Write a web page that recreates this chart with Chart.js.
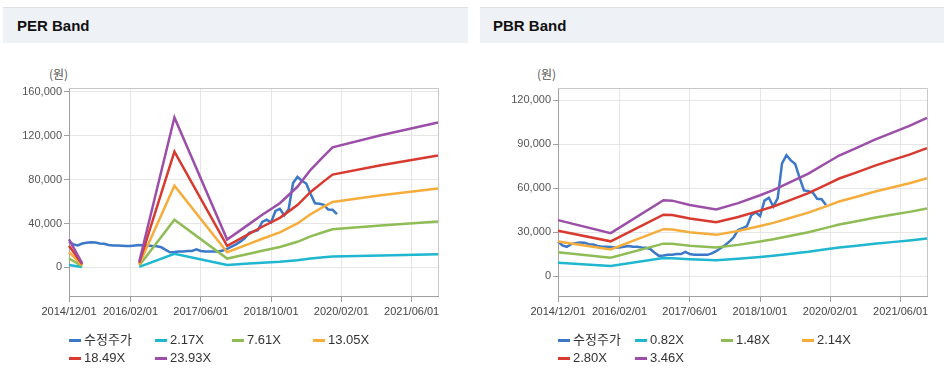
<!DOCTYPE html>
<html><head><meta charset="utf-8">
<script src="https://cdn.jsdelivr.net/npm/chart.js@4/dist/chart.umd.min.js"></script>
<style>
html,body{margin:0;padding:0;background:#fff;}
body{width:944px;height:380px;position:relative;overflow:hidden;font-family:"Liberation Sans",Arial,"Noto Sans CJK KR",sans-serif;}
.hdr{position:absolute;top:7px;height:36px;background:#eef1f6;border-top:1px solid #dde0e5;box-sizing:border-box;z-index:2;}
.hdr span{position:absolute;top:0;line-height:35px;font-weight:bold;font-size:15px;color:#111;font-family:"Liberation Sans","Noto Sans CJK KR",sans-serif;}
.unit{position:absolute;top:66px;font-size:12px;color:#555;font-family:"Noto Sans CJK KR",sans-serif;line-height:16px;}
canvas{position:absolute;top:0;}
.leg{position:absolute;font-size:13px;color:#333;white-space:nowrap;line-height:16px;font-family:"Liberation Sans","Noto Sans CJK KR",sans-serif;}
.leg i{position:absolute;left:0;top:7px;width:12px;height:3px;}
.leg b{font-weight:normal;position:absolute;left:15px;top:0;}
</style></head>
<body>
<div class="hdr" style="left:3px;width:465px;"><span style="left:14px;">PER Band</span></div>
<div class="hdr" style="left:480px;width:464px;"><span style="left:13px;">PBR Band</span></div>
<div class="unit" style="left:49px;">(원)</div>
<div class="unit" style="left:537px;">(원)</div>
<canvas id="per" width="470" height="336" style="left:0;width:470px;height:336px;"></canvas>
<canvas id="pbr" width="464" height="336" style="left:480px;width:464px;height:336px;"></canvas>
<div id="legPer"></div>
<div id="legPbr"></div>
<script>
const months = [
'2014/12/01',
'2015/01/01','2015/02/01','2015/03/01','2015/04/01','2015/05/01','2015/06/01','2015/07/01','2015/08/01','2015/09/01','2015/10/01','2015/11/01','2015/12/01',
'2016/01/01','2016/02/01','2016/03/01','2016/04/01','2016/05/01','2016/06/01','2016/07/01','2016/08/01','2016/09/01','2016/10/01','2016/11/01','2016/12/01',
'2017/01/01','2017/02/01','2017/03/01','2017/04/01','2017/05/01','2017/06/01','2017/07/01','2017/08/01','2017/09/01','2017/10/01','2017/11/01','2017/12/01',
'2018/01/01','2018/02/01','2018/03/01','2018/04/01','2018/05/01','2018/06/01','2018/07/01','2018/08/01','2018/09/01','2018/10/01','2018/11/01','2018/12/01',
'2019/01/01','2019/02/01','2019/03/01','2019/04/01','2019/05/01','2019/06/01','2019/07/01','2019/08/01','2019/09/01','2019/10/01','2019/11/01','2019/12/01',
'2020/01/01','2020/02/01','2020/03/01','2020/04/01','2020/05/01','2020/06/01','2020/07/01','2020/08/01','2020/09/01','2020/10/01','2020/11/01','2020/12/01',
'2021/01/01','2021/02/01','2021/03/01','2021/04/01','2021/05/01','2021/06/01','2021/07/01','2021/08/01','2021/09/01','2021/10/01','2021/11/01','2021/12/01'
];
const xTickLabels = ['2014/12/01','2016/02/01','2017/06/01','2018/10/01','2020/02/01','2021/06/01'];
const perYTicks = [0,40000,80000,120000,160000];
const pbrYTicks = [0,30000,60000,90000,120000];

const priceName = '수정주가';
const price = [23500,21000,20000,21800,22500,23000,22800,21800,21500,20500,
20000,20000,19800,19500,19500,20000,20500,20000,20000,19500,
19300,18500,16000,13800,14000,14500,14500,15000,15000,16500,
15000,14500,14500,14500,14500,15500,17000,19000,21000,23500,
26500,31500,32800,34000,41500,43500,41000,51500,53500,47500,
53000,77000,82500,79000,76500,67000,58500,58000,57000,52800,
52500,48500];

const perNames = ['2.17X','7.61X','13.05X','18.49X','23.93X'];
const perDates = ['2014/12/01','2015/03/01','2015/09/01','2016/04/01','2016/12/01','2017/12/01','2018/05/01','2018/08/01','2018/12/01','2019/04/01','2019/07/01','2019/10/01','2019/12/01','2020/11/01','2021/12/01'];
const per217 = [2320,340,null,500,12400,2310,3580,4350,5310,6670,8070,9210,9930,10930,11970];
const per761 = [8140,1210,null,1750,43470,8110,12560,15260,18600,23370,28300,32280,34820,38320,41980];
const per1305 = [13960,2070,null,3000,74540,13910,21540,26170,31900,40080,48530,55350,59710,65710,71980];
const per1849 = [19780,2940,null,4250,105630,19700,30520,37090,45200,56790,68770,78430,84610,93110,102000];
const per2393 = [25600,3800,null,5500,136700,25500,39500,48000,58500,73500,89000,101500,109500,120500,132000];

const pbrNames = ['0.82X','1.48X','2.14X','2.80X','3.46X'];
const pbrDates = ['2014/12/01','2015/12/01','2016/12/01','2017/02/01','2017/06/01','2017/12/01','2018/05/01','2018/10/01','2019/01/01','2019/05/01','2019/09/01','2020/01/01','2020/04/01','2020/08/01','2020/12/01','2021/04/01','2021/08/01','2021/12/01'];
const pbr082 = [9050,6940,12280,12210,11490,10780,11800,13080,13910,15240,16590,18250,19510,20740,22040,23180,24290,25600];
const pbr148 = [16340,12530,22150,22030,20740,19460,21300,23610,25110,27500,29940,32930,35200,37420,39780,41830,43840,46190];
const pbr214 = [23630,18120,32040,31850,30000,28140,30800,34140,36310,39770,43300,47620,50900,54120,57520,60490,63400,66800];
const pbr280 = [30910,23710,41920,41670,39250,36820,40300,44670,47500,52030,56640,62310,66600,70810,75260,79140,82940,87390];
const pbr346 = [38200,29300,51800,51500,48500,45500,49800,55200,58700,64300,70000,77000,82300,87500,93000,97800,102500,108000];

const colors = ['#3b78c8','#1fb6cf','#8fbc55','#f6ad3c','#d83a30','#9c4fa8'];

Chart.defaults.font.family = '"Liberation Sans", Arial, sans-serif';

function buildDatasets(names, dates, series) {
  const ds = [{label: priceName, data: price, borderColor: colors[0], order: 6}];
  series.forEach((vals, k) => {
    ds.push({label: names[k], data: dates.map((d, i) => ({x: d, y: vals[i]})), borderColor: colors[k + 1], order: 5 - k});
  });
  return ds;
}

const framePlugin = {
  id: 'frame',
  beforeDatasetsDraw(chart) {
    const {ctx, chartArea: a} = chart;
    ctx.save();
    ctx.strokeStyle = '#c8c8c8';
    ctx.lineWidth = 1;
    ctx.beginPath();
    ctx.moveTo(Math.round(a.left), Math.round(a.top) + 0.5);
    ctx.lineTo(Math.round(a.right) + 0.5, Math.round(a.top) + 0.5);
    ctx.lineTo(Math.round(a.right) + 0.5, Math.round(a.bottom));
    ctx.stroke();
    ctx.restore();
  }
};

function makeChart(id, datasets, yMin, yMax, yTicks, yWidth, padRight) {
  return new Chart(document.getElementById(id), {
    type: 'line',
    data: {labels: months, datasets: datasets},
    options: {
      responsive: false, animation: false, devicePixelRatio: 1,
      layout: {padding: {left: 0, right: padRight, top: 88, bottom: 0}},
      elements: {line: {borderWidth: 2.5, tension: 0, fill: false}, point: {radius: 0, hoverRadius: 0}},
      spanGaps: false,
      plugins: {legend: {display: false}, tooltip: {enabled: false}},
      scales: {
        x: {
          type: 'category', offset: false,
          afterBuildTicks: s => { s.ticks = xTickLabels.map(l => ({value: months.indexOf(l)})); },
          afterFit: s => { s.height = 40; },
          ticks: {autoSkip: false, maxRotation: 0, minRotation: 0, padding: 3, color: '#444', font: {size: 11}},
          grid: {color: '#e6e6e6', tickColor: '#a0a0a0', tickLength: 6, drawTicks: true},
          border: {color: '#a0a0a0'}
        },
        y: {
          min: yMin, max: yMax,
          afterBuildTicks: s => { s.ticks = yTicks.map(v => ({value: v})); },
          afterFit: s => { s.width = yWidth; },
          ticks: {padding: 2, color: '#555', font: {size: 11}, callback: v => v.toLocaleString('en-US')},
          grid: {color: '#e6e6e6', tickColor: '#a0a0a0', tickLength: 5, drawTicks: true},
          border: {color: '#a0a0a0'}
        }
      }
    },
    plugins: [framePlugin]
  });
}

makeChart('per', buildDatasets(perNames, perDates, [per217, per761, per1305, per1849, per2393]), -26000, 163500, perYTicks, 69, 32);
makeChart('pbr', buildDatasets(pbrNames, pbrDates, [pbr082, pbr148, pbr214, pbr280, pbr346]), -13600, 128400, pbrYTicks, 78, 17);

function buildLegend(id, names, left, cols) {
  const el = document.getElementById(id);
  const all = [priceName].concat(names);
  const rows = [332, 350];
  all.forEach((n, i) => {
    const d = document.createElement('div');
    d.className = 'leg';
    d.style.left = (left + cols[i % 4]) + 'px';
    d.style.top = rows[Math.floor(i / 4)] + 'px';
    d.innerHTML = '<i style="background:' + colors[i] + '"></i><b>' + n + '</b>';
    el.appendChild(d);
  });
}
buildLegend('legPer', perNames, 69, [0, 86, 163, 244]);
buildLegend('legPbr', pbrNames, 558, [0, 77, 163, 244]);
</script>
</body></html>
